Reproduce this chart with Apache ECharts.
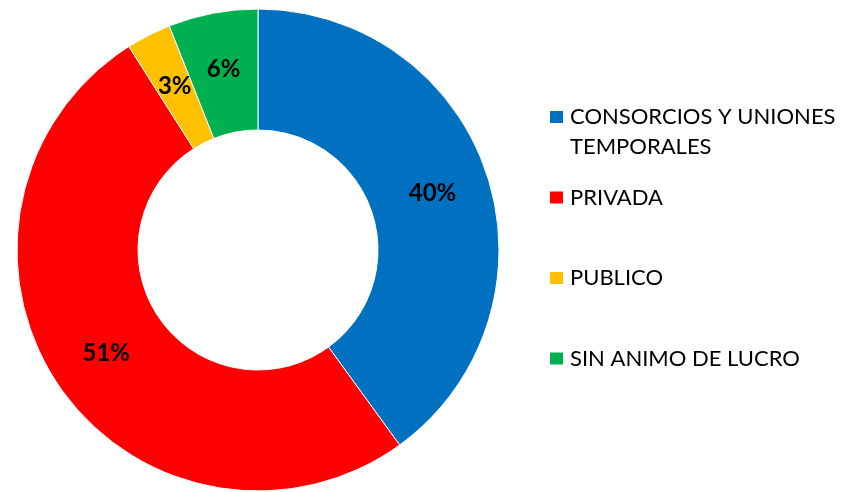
<!DOCTYPE html>
<html>
<head>
<meta charset="utf-8">
<script src="https://cdn.jsdelivr.net/npm/echarts@6/dist/echarts.min.js"></script>
<style>
  html, body { margin: 0; padding: 0; background: #fff; }
  #chart { width: 841px; height: 492px; }
</style>
</head>
<body>
<div id="chart"></div>
<script>
// datos del grafico
const categories = ['CONSORCIOS Y UNIONES TEMPORALES', 'PRIVADA', 'PUBLICO', 'SIN ANIMO DE LUCRO']
const percents = [40, 51, 3, 6]
const colors = ['#0070C0', '#FF0000', '#FFC000', '#00B050']

const fontFamily = 'Lato, "Open Sans", sans-serif'

const chart = echarts.init(document.getElementById('chart'))

chart.setOption({
    animation: false,
    color: colors,
    legend: {
        orient: 'vertical',
        left: 548,
        top: 106,
        padding: 0,
        itemWidth: 15,
        itemHeight: 14,
        itemGap: 58.5,
        icon: 'rect',
        data: categories,
        formatter: function (name) {
            // la segunda linea va aparte (graphic) para que el marcador quede en la primera
            return name === categories[0] ? 'CONSORCIOS Y UNIONES' : name
        },
        textStyle: {
            fontFamily: fontFamily,
            fontSize: 22,
            lineHeight: 20,
            color: '#000',
            padding: [0, 0, 0, 1]
        }
    },
    graphic: [{
        type: 'text',
        left: 570,
        top: 136,
        style: {
            text: 'TEMPORALES',
            font: '22px ' + fontFamily,
            fill: '#000'
        }
    }],
    series: [{
        type: 'pie',
        center: [258, 250],
        radius: [120, 241],
        startAngle: 90,
        clockwise: true,
        itemStyle: {
            borderColor: '#fff',
            borderWidth: 1
        },
        label: {
            show: true,
            position: 'inside',
            formatter: '{c}%',
            fontFamily: fontFamily,
            fontWeight: 'bold',
            fontSize: 24,
            color: '#000'
        },
        labelLine: { show: false },
        emphasis: { disabled: true },
        data: categories.map((name, i) => ({ name: name, value: percents[i] }))
    }]
})
</script>
</body>
</html>
